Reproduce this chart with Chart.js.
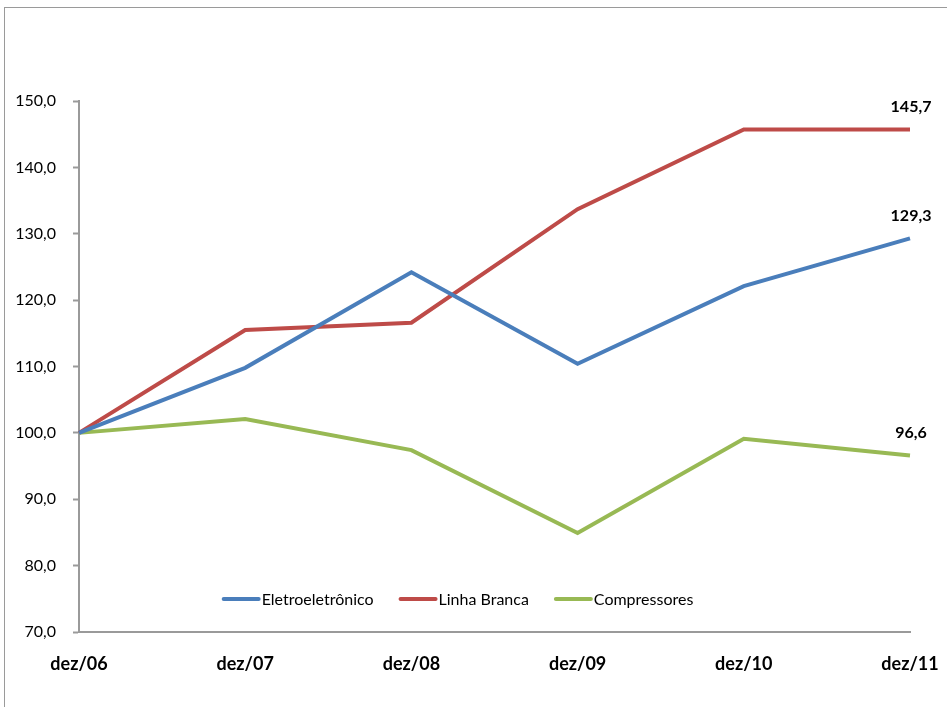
<!DOCTYPE html>
<html>
<head>
<meta charset="utf-8">
<script src="https://cdn.jsdelivr.net/npm/chart.js@4/dist/chart.umd.min.js"></script>
<style>
html,body{margin:0;padding:0;background:#fff;overflow:hidden;}
#wrap{position:relative;width:947px;height:707px;}
#frame{position:absolute;left:4px;top:7px;width:980px;height:740px;border:1px solid #9a9a9a;box-sizing:border-box;}
canvas{position:absolute;left:0;top:0;}
</style>
</head>
<body>
<div id="wrap">
<div id="frame"></div>
<canvas id="c" width="947" height="707"></canvas>
</div>
<script>
const categories = ["dez/06","dez/07","dez/08","dez/09","dez/10","dez/11"];
const eletroeletronico = [100.0, 109.8, 124.2, 110.4, 122.1, 129.3];
const linhaBranca = [100.0, 115.5, 116.6, 133.7, 145.7, 145.7];
const compressores = [100.0, 102.1, 97.4, 84.9, 99.1, 96.6];
const seriesNames = ["Eletroeletrônico","Linha Branca","Compressores"];
const seriesColors = ["#4a7ebb","#be4b48","#98b954"];

const FONT = "Lato, 'Liberation Sans', sans-serif";
const fmt = v => v.toFixed(1).replace('.', ',');

const legendPlugin = {
  id: 'inlineLegend',
  afterDraw(chart) {
    const ctx = chart.ctx;
    ctx.save();
    ctx.font = "16px " + FONT;
    ctx.textBaseline = 'middle';
    ctx.textAlign = 'left';
    const y = 599;
    const lineLen = 36, gapAfterLine = 3, gapBetween = 26;
    let total = 0;
    const widths = chart.data.datasets.map(ds => ctx.measureText(ds.label).width);
    widths.forEach((w, i) => { total += lineLen + gapAfterLine + w + (i < widths.length - 1 ? gapBetween : 0); });
    let x = 458 - total / 2;
    chart.data.datasets.forEach((ds, i) => {
      ctx.strokeStyle = ds.borderColor;
      ctx.lineWidth = 4;
      ctx.lineCap = 'round';
      ctx.beginPath();
      ctx.moveTo(x + 1, y);
      ctx.lineTo(x + lineLen, y);
      ctx.stroke();
      x += lineLen + gapAfterLine;
      ctx.fillStyle = '#000';
      ctx.fillText(ds.label, x, y + 1);
      x += widths[i] + gapBetween;
    });
    ctx.restore();
  }
};

const lastLabelPlugin = {
  id: 'lastLabels',
  afterDatasetsDraw(chart) {
    const ctx = chart.ctx;
    ctx.save();
    ctx.font = "bold 16px " + FONT;
    ctx.fillStyle = '#000';
    ctx.textAlign = 'center';
    ctx.textBaseline = 'middle';
    chart.data.datasets.forEach((ds, i) => {
      const meta = chart.getDatasetMeta(i);
      const n = ds.data.length - 1;
      const pt = meta.data[n];
      ctx.fillText(fmt(ds.data[n]), pt.x + 1, pt.y - 23);
    });
    ctx.restore();
  }
};

const makeDs = (label, data, color) => ({
  label, data,
  borderColor: color,
  backgroundColor: color,
  borderWidth: 4,
  pointRadius: 0,
  pointHoverRadius: 0,
  tension: 0,
  fill: false,
  clip: false
});

new Chart(document.getElementById('c'), {
  type: 'line',
  data: {
    labels: categories,
    datasets: [
      makeDs(seriesNames[0], eletroeletronico, seriesColors[0]),
      makeDs(seriesNames[1], linhaBranca, seriesColors[1]),
      makeDs(seriesNames[2], compressores, seriesColors[2])
    ]
  },
  options: {
    responsive: false,
    animation: false,
    events: [],
    layout: { padding: { left: 0, right: 37, top: 101, bottom: 0 } },
    plugins: { legend: { display: false }, tooltip: { enabled: false } },
    scales: {
      x: {
        offset: false,
        grid: { display: true, drawOnChartArea: false, drawTicks: false, color: '#9a9a9a' },
        border: { display: true, color: '#9a9a9a', width: 2 },
        ticks: { color: '#000', font: { family: FONT, size: 18, weight: 'bold' }, padding: 21, maxRotation: 0, autoSkip: false },
        afterFit(s) { s.height = 75; s.paddingLeft = 0; s.paddingRight = 0; }
      },
      y: {
        min: 70, max: 150,
        grid: { display: true, drawOnChartArea: false, drawTicks: true, tickLength: 6, color: '#9a9a9a', tickWidth: 2 },
        border: { display: true, color: '#9a9a9a', width: 2 },
        ticks: { stepSize: 10, color: '#000', font: { family: FONT, size: 16 }, padding: 17, callback: v => fmt(v) },
        afterFit(s) { s.width = 79; s.paddingTop = 0; s.paddingBottom = 0; }
      }
    }
  },
  plugins: [legendPlugin, lastLabelPlugin]
});
</script>
</body>
</html>
